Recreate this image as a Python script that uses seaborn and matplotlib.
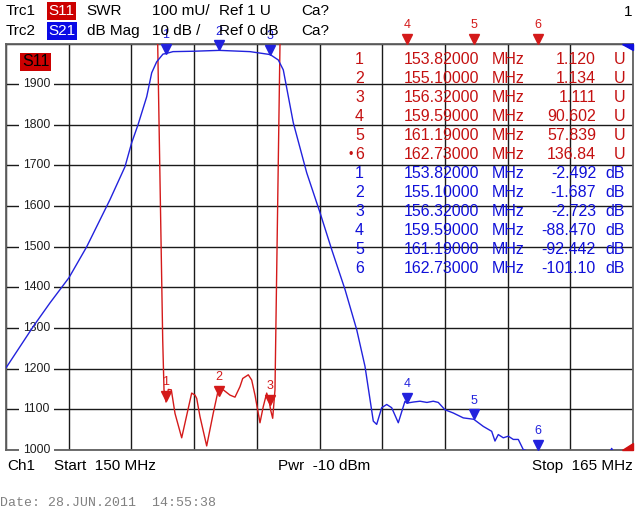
import numpy as np
import pandas as pd
import seaborn as sns
import matplotlib.pyplot as plt
from matplotlib.transforms import offset_copy, blended_transform_factory
from matplotlib.patches import Polygon

# S11 trace, SWR in mU (off scale outside the passband)
s11_freq = [150.0, 153.0, 153.629, 153.749, 153.780, 153.828, 153.883, 153.955, 154.043, 154.203,
            154.442, 154.521, 154.562, 154.641, 154.801, 154.959, 155.079, 155.198, 155.359, 155.478,
            155.598, 155.663, 155.797, 155.878, 155.957, 156.076, 156.155, 156.237, 156.299, 156.332,
            156.380, 156.435, 156.555, 157.5, 159.59, 161.19, 162.73, 165.0]
s11_swr = [40000, 6000, 2000, 1271, 1148, 1118, 1149, 1148, 1090, 1030,
           1140, 1135, 1127, 1082, 1010, 1091, 1148, 1148, 1135, 1130,
           1156, 1176, 1185, 1172, 1135, 1067, 1107, 1140, 1119, 1098,
           1078, 1148, 2000, 30000, 90602, 57839, 136840, 120000]

# S21 trace, dB
s21_freq = [150.0, 150.653, 151.053, 151.507, 151.931, 152.488, 152.847, 153.007, 153.158, 153.366,
            153.486, 153.605, 153.756, 153.82, 153.995, 154.5, 155.1, 155.837, 156.32, 156.514,
            156.634, 156.873, 157.194, 157.512, 157.792, 158.110, 158.390, 158.588, 158.787, 158.868,
            158.988, 159.108, 159.227, 159.385, 159.545, 159.59, 159.744, 159.904, 160.07, 160.222,
            160.342, 160.502, 160.701, 160.940, 161.19, 161.419, 161.619, 161.698, 161.777, 161.897,
            162.017, 162.136, 162.256, 162.375, 162.73, 164.40, 164.49, 164.58, 165.0]
s21_db = [-79.8, -69.6, -63.8, -57.6, -50.0, -38.4, -30.3, -24.4, -20.0, -13.1,
          -7.2, -4.5, -2.6, -2.49, -2.0, -1.9, -1.69, -2.0, -2.72, -4.05,
          -6.5, -19.5, -31.8, -41.6, -50.7, -60.5, -70.4, -79.4, -92.9, -93.7,
          -89.6, -88.8, -89.6, -93.3, -88.0, -88.47, -88.2, -88.0, -88.3, -88.0,
          -88.3, -90.1, -90.9, -92.1, -92.44, -94.2, -95.4, -97.8, -96.2, -97.0,
          -96.6, -97.4, -97.4, -99.9, -101.1, -101.5, -99.6, -101.5, -103.0]

marker_freq = [153.82, 155.10, 156.32, 159.59, 161.19, 162.73]
s11_marker_u = [1.120, 1.134, 1.111, 90.602, 57.839, 136.84]
s21_marker_db = [-2.492, -1.687, -2.723, -88.470, -92.442, -101.10]
active_marker = 6

y_ticks = [1000, 1100, 1200, 1300, 1400, 1500, 1600, 1700, 1800, 1900]

RED = '#d41a1a'
BLUE = '#2222dd'
RED_TXT = '#c41010'
BLUE_TXT = '#1010d8'

sns.set_style("white")
plt.rcParams['font.family'] = ['Liberation Sans', 'DejaVu Sans']

W, H = 640, 527
fig = plt.figure(figsize=(6.4, 5.27), dpi=100)


def px(x, y):
    return x / W, 1 - y / H


ax = fig.add_axes([6 / W, 1 - 450 / H, 627 / W, 406.5 / H])
ax.set_xlim(150, 165)
ax.set_ylim(1000, 2000)
ax.set_xticks(np.arange(150, 165.01, 1.5))
ax.set_yticks(np.arange(1000, 2001, 100))
ax.set_xticklabels([])
ax.set_yticklabels([])
ax.tick_params(length=0)
ax.set_axisbelow(True)
ax.grid(True, color='#1a1a1a', linewidth=1.0)
for s in ax.spines.values():
    s.set_color('#606060')
    s.set_linewidth(1.3)

sns.lineplot(x=s11_freq, y=s11_swr, ax=ax, color=RED, linewidth=1.0,
             sort=False, estimator=None, zorder=3)

# y labels sitting on the grid lines
tr = blended_transform_factory(ax.transAxes, ax.transData)
for v in y_ticks:
    ax.text(0.0486, v, str(v), transform=tr, ha='center', va='center', fontsize=8.7,
            color='#202020', zorder=2.6,
            bbox=dict(boxstyle='square,pad=0.35', fc='white', ec='none'))

ax2 = ax.twinx()
ax2.set_ylim(-100, 0)
ax2.set_yticks([])
ax2.tick_params(length=0)
for s in ax2.spines.values():
    s.set_visible(False)
sns.lineplot(x=s21_freq, y=s21_db, ax=ax2, color=BLUE, linewidth=1.0,
             sort=False, estimator=None, zorder=3)


def draw_markers(a, freqs, vals, lo, hi, col):
    yv = np.clip(vals, lo, hi)
    trans = offset_copy(a.transData, fig=fig, y=3.6, units='points')
    a.plot(freqs, yv, linestyle='none', marker='v', markersize=7.2, color=col,
           transform=trans, clip_on=False, zorder=5)
    for i, (f, v) in enumerate(zip(freqs, yv)):
        a.annotate(str(i + 1), (f, v), xytext=(0, 13.5), textcoords='offset points',
                   ha='center', va='center', fontsize=9, color=col,
                   annotation_clip=False, zorder=5)


draw_markers(ax, marker_freq, np.array(s11_marker_u) * 1000, 1000, 2000, RED)
draw_markers(ax2, marker_freq, s21_marker_db, -100, 0, BLUE)

# off-scale indicators in the right corners
ax2.add_patch(Polygon([[0.9825, 1.0], [1.0, 1.0], [1.0, 0.983]], closed=True,
                      transform=ax2.transAxes, color='#1010e0', zorder=6, clip_on=False))
ax2.add_patch(Polygon([[0.9825, 0.0], [1.0, 0.0], [1.0, 0.018]], closed=True,
                      transform=ax2.transAxes, color='#d01010', zorder=6, clip_on=False))

# S11 badge inside the diagram
ax.text((22 - 6) / 627, 1 - (62 - 43.5) / 406.5, 'S11', transform=ax.transAxes,
        ha='left', va='center', fontsize=11.5, color='black', zorder=6,
        bbox=dict(boxstyle='square,pad=0.1', fc='#cc0000', ec='none'))

# marker table
def fmt_val(v):
    nint = len(str(int(abs(v))))
    return f"{v:.{min(3, 5 - nint)}f}"


row_y = 59.7
for trace, vals, unit, col in [('S11', s11_marker_u, 'U', RED_TXT),
                               ('S21', s21_marker_db, 'dB', BLUE_TXT)]:
    for i, (f, v) in enumerate(zip(marker_freq, vals)):
        yy = px(0, row_y)[1]
        fig.text(364 / W, yy, str(i + 1), ha='right', va='center', fontsize=11.5, color=col)
        if trace == 'S11' and i + 1 == active_marker:
            fig.text(351 / W, yy, '\u2022', ha='center', va='center', fontsize=9, color=col)
        fig.text(479 / W, yy, f"{f:.5f}", ha='right', va='center', fontsize=11.5, color=col)
        fig.text(491.5 / W, yy, 'MHz', ha='left', va='center', fontsize=11.5, color=col)
        fig.text(596 / W, yy, fmt_val(v), ha='right', va='center', fontsize=11.5, color=col)
        fig.text(625 / W, yy, unit, ha='right', va='center', fontsize=11.5, color=col)
        row_y += 19.0

# header lines
hdr = dict(ha='left', va='center', fontsize=11, color='black')
for y, trc, sp, spcol, fmt, scale, ref in [(11, 'Trc1', 'S11', '#cc0000', 'SWR', '100 mU/', 'Ref 1 U'),
                                           (31, 'Trc2', 'S21', '#0a0ae6', 'dB Mag', '10 dB /', 'Ref 0 dB')]:
    fig.text(*px(6, y), trc, **hdr)
    fig.text(*px(48.5, y), sp, ha='left', va='center', fontsize=11, color='white',
             bbox=dict(boxstyle='square,pad=0.12', fc=spcol, ec='none'))
    fig.text(*px(86.7, y), fmt, **hdr)
    fig.text(*px(151.7, y), scale, **hdr)
    fig.text(*px(219, y), ref, **hdr)
    fig.text(*px(301.7, y), 'Ca?', **hdr)
fig.text(*px(632, 12), '1', ha='right', va='center', fontsize=11, color='black')

# footer
fig.text(*px(7, 466), 'Ch1', **hdr)
fig.text(*px(54, 466), 'Start  150 MHz', **hdr)
fig.text(*px(278, 466), 'Pwr  -10 dBm', **hdr)
fig.text(*px(633, 466), 'Stop  165 MHz', ha='right', va='center', fontsize=11, color='black')
fig.text(*px(0, 503), 'Date: 28.JUN.2011  14:55:38', ha='left', va='center',
         fontsize=9.5, color='#808080', family='Liberation Mono')

fig.savefig('out.png', dpi=100)
